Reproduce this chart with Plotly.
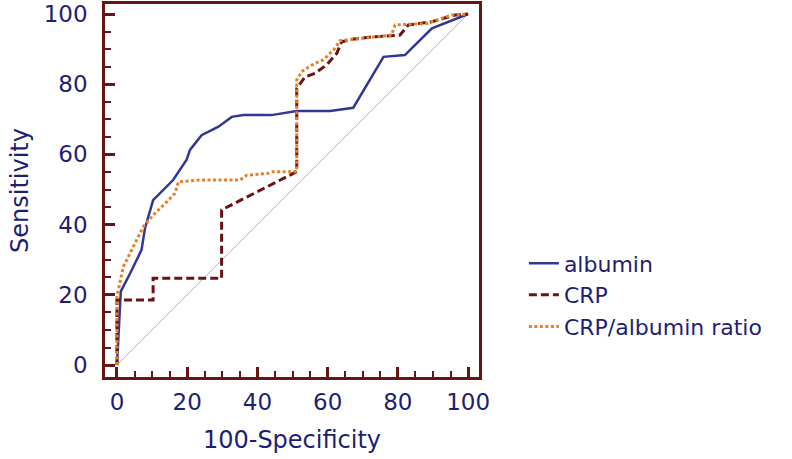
import plotly.graph_objects as go

# 100-Specificity (x) and Sensitivity (y) for each ROC curve
albumin_x = [0, 0.85, 1.1, 3.7, 7, 8, 10.3, 16, 19.8, 20.8, 24.1, 28.9, 32.7, 36, 44, 51.2, 60.7, 67.3, 75.9, 82, 89.7, 100]
albumin_y = [0, 19.5, 21, 26, 32.8, 39, 47, 52.7, 58.4, 61.3, 65.5, 67.9, 70.7, 71.2, 71.2, 72.4, 72.4, 73.3, 87.8, 88.3, 95.9, 100]

crp_x = [0, 0, 10.3, 10.3, 29.8, 29.8, 51.2, 51.2, 53.6, 56.4, 59.7, 62.6, 64, 66.9, 72.6, 80.6, 83, 89.7, 96.3, 100]
crp_y = [0, 18.5, 18.5, 24.7, 24.7, 44.2, 55.1, 78.8, 82.1, 83.1, 85.5, 88.8, 92.1, 92.8, 93.5, 94, 96.9, 97.8, 99.7, 100]

ratio_x = [0, 0, 1.8, 4.6, 7.5, 10.3, 12.3, 13.7, 16.5, 17.5, 23.6, 35, 37, 43, 44.5, 51.2, 51.2, 52.6, 55.6, 58.8, 62.1, 63.5, 65.4, 78.2, 79.2, 85.8, 88.2, 95.3, 100]
ratio_y = [0, 19.5, 28, 33.7, 39.4, 42.7, 44.6, 46, 48.9, 52.2, 52.7, 52.7, 54.1, 54.6, 55.1, 55.1, 81.2, 83.6, 85.5, 87, 90.2, 92.4, 92.6, 94, 96.9, 97.3, 97.3, 99.7, 100]

ref_x = [0, 100]
ref_y = [0, 100]

tick_vals = [0, 20, 40, 60, 80, 100]

NAVY = "rgb(30,30,115)"
MAROON = "rgb(105,20,20)"
BLUE = "rgb(50,55,150)"
ORANGE = "rgb(232,128,40)"
FONT = "DejaVu Sans, sans-serif"

fig = go.Figure()
fig.add_trace(go.Scatter(x=ref_x, y=ref_y, mode="lines", showlegend=False,
                         line=dict(color="rgb(185,150,150)", width=0.8), hoverinfo="skip"))
fig.add_trace(go.Scatter(x=albumin_x, y=albumin_y, mode="lines", name="albumin",
                         line=dict(color=BLUE, width=2.5)))
fig.add_trace(go.Scatter(x=crp_x, y=crp_y, mode="lines", name="CRP",
                         line=dict(color=MAROON, width=3, dash="8px,4px")))
fig.add_trace(go.Scatter(x=ratio_x, y=ratio_y, mode="lines", name="CRP/albumin ratio",
                         line=dict(color=ORANGE, width=3, dash="3px,2.5px")))

axis_common = dict(
    showgrid=False, zeroline=False, automargin=False,
    showline=True, linecolor=MAROON, linewidth=2.5, mirror=True,
    ticks="inside", ticklen=10, tickwidth=2.5, tickcolor=MAROON,
    tickvals=tick_vals,
    minor=dict(ticks="inside", ticklen=6, tickwidth=1.5, tickcolor=MAROON, dtick=5, tick0=0, showgrid=False),
    tickfont=dict(family=FONT, size=23, color=NAVY),
)

fig.update_xaxes(range=[-3.4, 103.1], title=dict(text="100-Specificity", font=dict(family=FONT, size=24, color=NAVY), standoff=17),
                 ticklabelstandoff=3, **axis_common)
fig.update_yaxes(range=[-3.4, 102.85], title=dict(text="Sensitivity", font=dict(family=FONT, size=24, color=NAVY), standoff=9),
                 ticklabelstandoff=10, **axis_common)

fig.update_layout(
    width=792, height=459,
    margin=dict(l=105, r=313, t=4, b=82),
    paper_bgcolor="white", plot_bgcolor="white",
    legend=dict(x=1.12, y=0.22, xanchor="left", yanchor="middle",
                font=dict(family=FONT, size=22, color=NAVY),
                bgcolor="rgba(0,0,0,0)", tracegroupgap=0),
    showlegend=True,
)

fig.write_html("out.html", config={"displayModeBar": False},
               post_script="document.body.style.margin='0px';")
